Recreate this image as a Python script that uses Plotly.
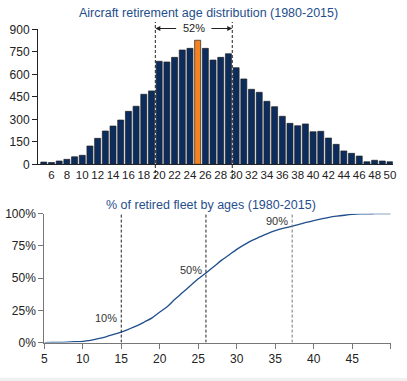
import plotly.graph_objects as go

# ---- data ----
ages = list(range(5, 51))
retired = [15, 12, 22, 33, 50, 60, 122, 173, 222, 255, 295, 353, 387, 467, 489,
           687, 682, 713, 762, 773, 827, 773, 695, 713, 737,
           644, 569, 500, 480, 420, 384, 320, 273, 257, 269,
           217, 220, 175, 133, 89, 73, 55, 17, 27, 22, 17]
highlight_age = 25
cum_pct = [0, 0.1, 0.2, 0.4, 0.7, 1.0, 1.8, 3.0, 4.5, 6.3, 8.2, 10.5, 13.0, 16.0, 19.2,
           23.7, 28.0, 33.8, 39.0, 44.3, 49.5, 54.0, 58.8, 63.8, 68.0,
           72.3, 76.0, 79.3, 82.0, 84.6, 86.8, 88.6, 90.0, 91.5, 93.2,
           94.6, 95.9, 97.2, 98.1, 98.8, 99.4, 99.8, 99.9, 100.0, 100.0, 100.0]
top_ticks = list(range(6, 51, 2))
top_yticks = list(range(0, 901, 150))
bot_xticks = list(range(5, 51, 5))
bot_xticktext = [str(v) for v in bot_xticks[:-1]] + [""]
bot_yticks = [0, 25, 50, 75, 100]
bot_yticktext = [f"{v}%" for v in bot_yticks]
band_edges = [19.5, 29.5]
band_label = "52%"
pct_marks = [15, 26, 37.2]
pct_labels = ["10%", "50%", "90%"]
pct_label_y = [19, 56, 94]

title_top = "Aircraft retirement age distribution (1980-2015)"
title_bot = "% of retired fleet by ages (1980-2015)"

NAVY = "#0b2c5c"
ORANGE = "#f58220"
BLUE_T = "#1f4e8c"
FONT = "Liberation Sans, Arial, sans-serif"
DASH = "3px,2px"

W, H = 407, 381
def py(p):  # pixel-from-top -> paper y
    return 1 - p / H
def px(p):
    return p / W

colors = [ORANGE if a == highlight_age else NAVY for a in ages]

fig = go.Figure()
fig.add_trace(go.Bar(x=ages, y=retired, marker=dict(color=colors, line=dict(color="#222222", width=0.7)),
                     xaxis="x", yaxis="y", showlegend=False, width=0.78))
fig.add_trace(go.Scatter(x=ages, y=cum_pct, mode="lines", line=dict(color="#1f4e8c", width=1.3, shape="spline"),
                         xaxis="x2", yaxis="y2", showlegend=False))

axis_font = dict(family=FONT, size=12, color="#222222")

fig.update_layout(
    width=W, height=H,
    margin=dict(l=0, r=0, t=0, b=0, autoexpand=False),
    paper_bgcolor="white", plot_bgcolor="white",
    font=dict(family=FONT),
    bargap=0.2,
    hovermode=False,
    xaxis=dict(domain=[px(38), px(392.7)], range=[4.25, 50.35], tickvals=top_ticks, automargin=False,
               showgrid=False, zeroline=False, showline=True, linecolor="#222222", linewidth=1,
               ticks="", tickfont=dict(family=FONT, size=11.5, color="#222222"), anchor="y"),
    yaxis=dict(domain=[py(164.3), py(29.3)], range=[0, 900], tickvals=top_yticks, automargin=False,
               showgrid=False, zeroline=False, showline=True, linecolor="#222222", linewidth=1,
               ticks="outside", ticklen=5, tickcolor="#222222", tickfont=axis_font, anchor="x"),
    xaxis2=dict(domain=[px(44.3), px(390.7)], range=[5, 50], tickvals=bot_xticks, ticktext=bot_xticktext,
                automargin=False,
                showgrid=False, zeroline=False, showline=True, linecolor="#777777", linewidth=1,
                ticks="outside", ticklen=5, tickcolor="#777777", tickfont=axis_font, anchor="y2"),
    yaxis2=dict(domain=[py(342.6), py(213.7)], range=[0, 100], tickvals=bot_yticks, ticktext=bot_yticktext,
                automargin=False,
                showgrid=False, zeroline=False, showline=True, linecolor="#777777", linewidth=1,
                ticks="outside", ticklen=5, tickcolor="#777777", tickfont=axis_font, anchor="x2"),
)

shapes = []
for e in band_edges:
    shapes.append(dict(type="line", xref="x", yref="paper", x0=e, x1=e, y0=py(178), y1=py(22),
                       line=dict(color="#222222", width=1, dash=DASH)))
for i, m in enumerate(pct_marks):
    shapes.append(dict(type="line", xref="x2", yref="y2", x0=m, x1=m, y0=0, y1=100,
                       line=dict(color="#777777" if i == 2 else "#222222", width=1, dash=DASH)))
shapes.append(dict(type="rect", xref="paper", yref="paper", x0=0, x1=1, y0=0, y1=3 / H,
                   fillcolor="#f0f0f0", line=dict(width=0), layer="below"))

arrow_y = py(28.5)
mid = sum(band_edges) / 2
annotations = [
    dict(text=title_top, xref="paper", yref="paper", x=px(208), y=py(13), showarrow=False,
         font=dict(family=FONT, size=12.5, color=BLUE_T), xanchor="center", yanchor="middle"),
    dict(text=title_bot, xref="paper", yref="paper", x=px(211), y=py(205), showarrow=False,
         font=dict(family=FONT, size=12.5, color=BLUE_T), xanchor="center", yanchor="middle"),
    dict(text=band_label, xref="x", yref="paper", x=mid, y=arrow_y, showarrow=False,
         font=dict(family=FONT, size=11, color="#222222"), xanchor="center", yanchor="middle"),
]
for edge, off in ((band_edges[0], -2.1), (band_edges[1], 2.1)):
    annotations.append(dict(text="", xref="x", yref="paper", x=edge, y=arrow_y, axref="x", ayref="pixel",
                            ax=mid + off, ay=0, showarrow=True, arrowhead=2, arrowsize=1, arrowwidth=1,
                            arrowcolor="#222222"))
for m, t, yy in zip(pct_marks, pct_labels, pct_label_y):
    annotations.append(dict(text=t, xref="x2", yref="y2", x=m, y=yy, xshift=-2, showarrow=False,
                            font=dict(family=FONT, size=11, color="#333333"), xanchor="right", yanchor="middle"))

fig.update_layout(shapes=shapes, annotations=annotations)
fig.write_html("out.html", config={"displayModeBar": False, "staticPlot": True},
               post_script="document.body.style.margin='0';document.body.style.overflow='hidden';")
